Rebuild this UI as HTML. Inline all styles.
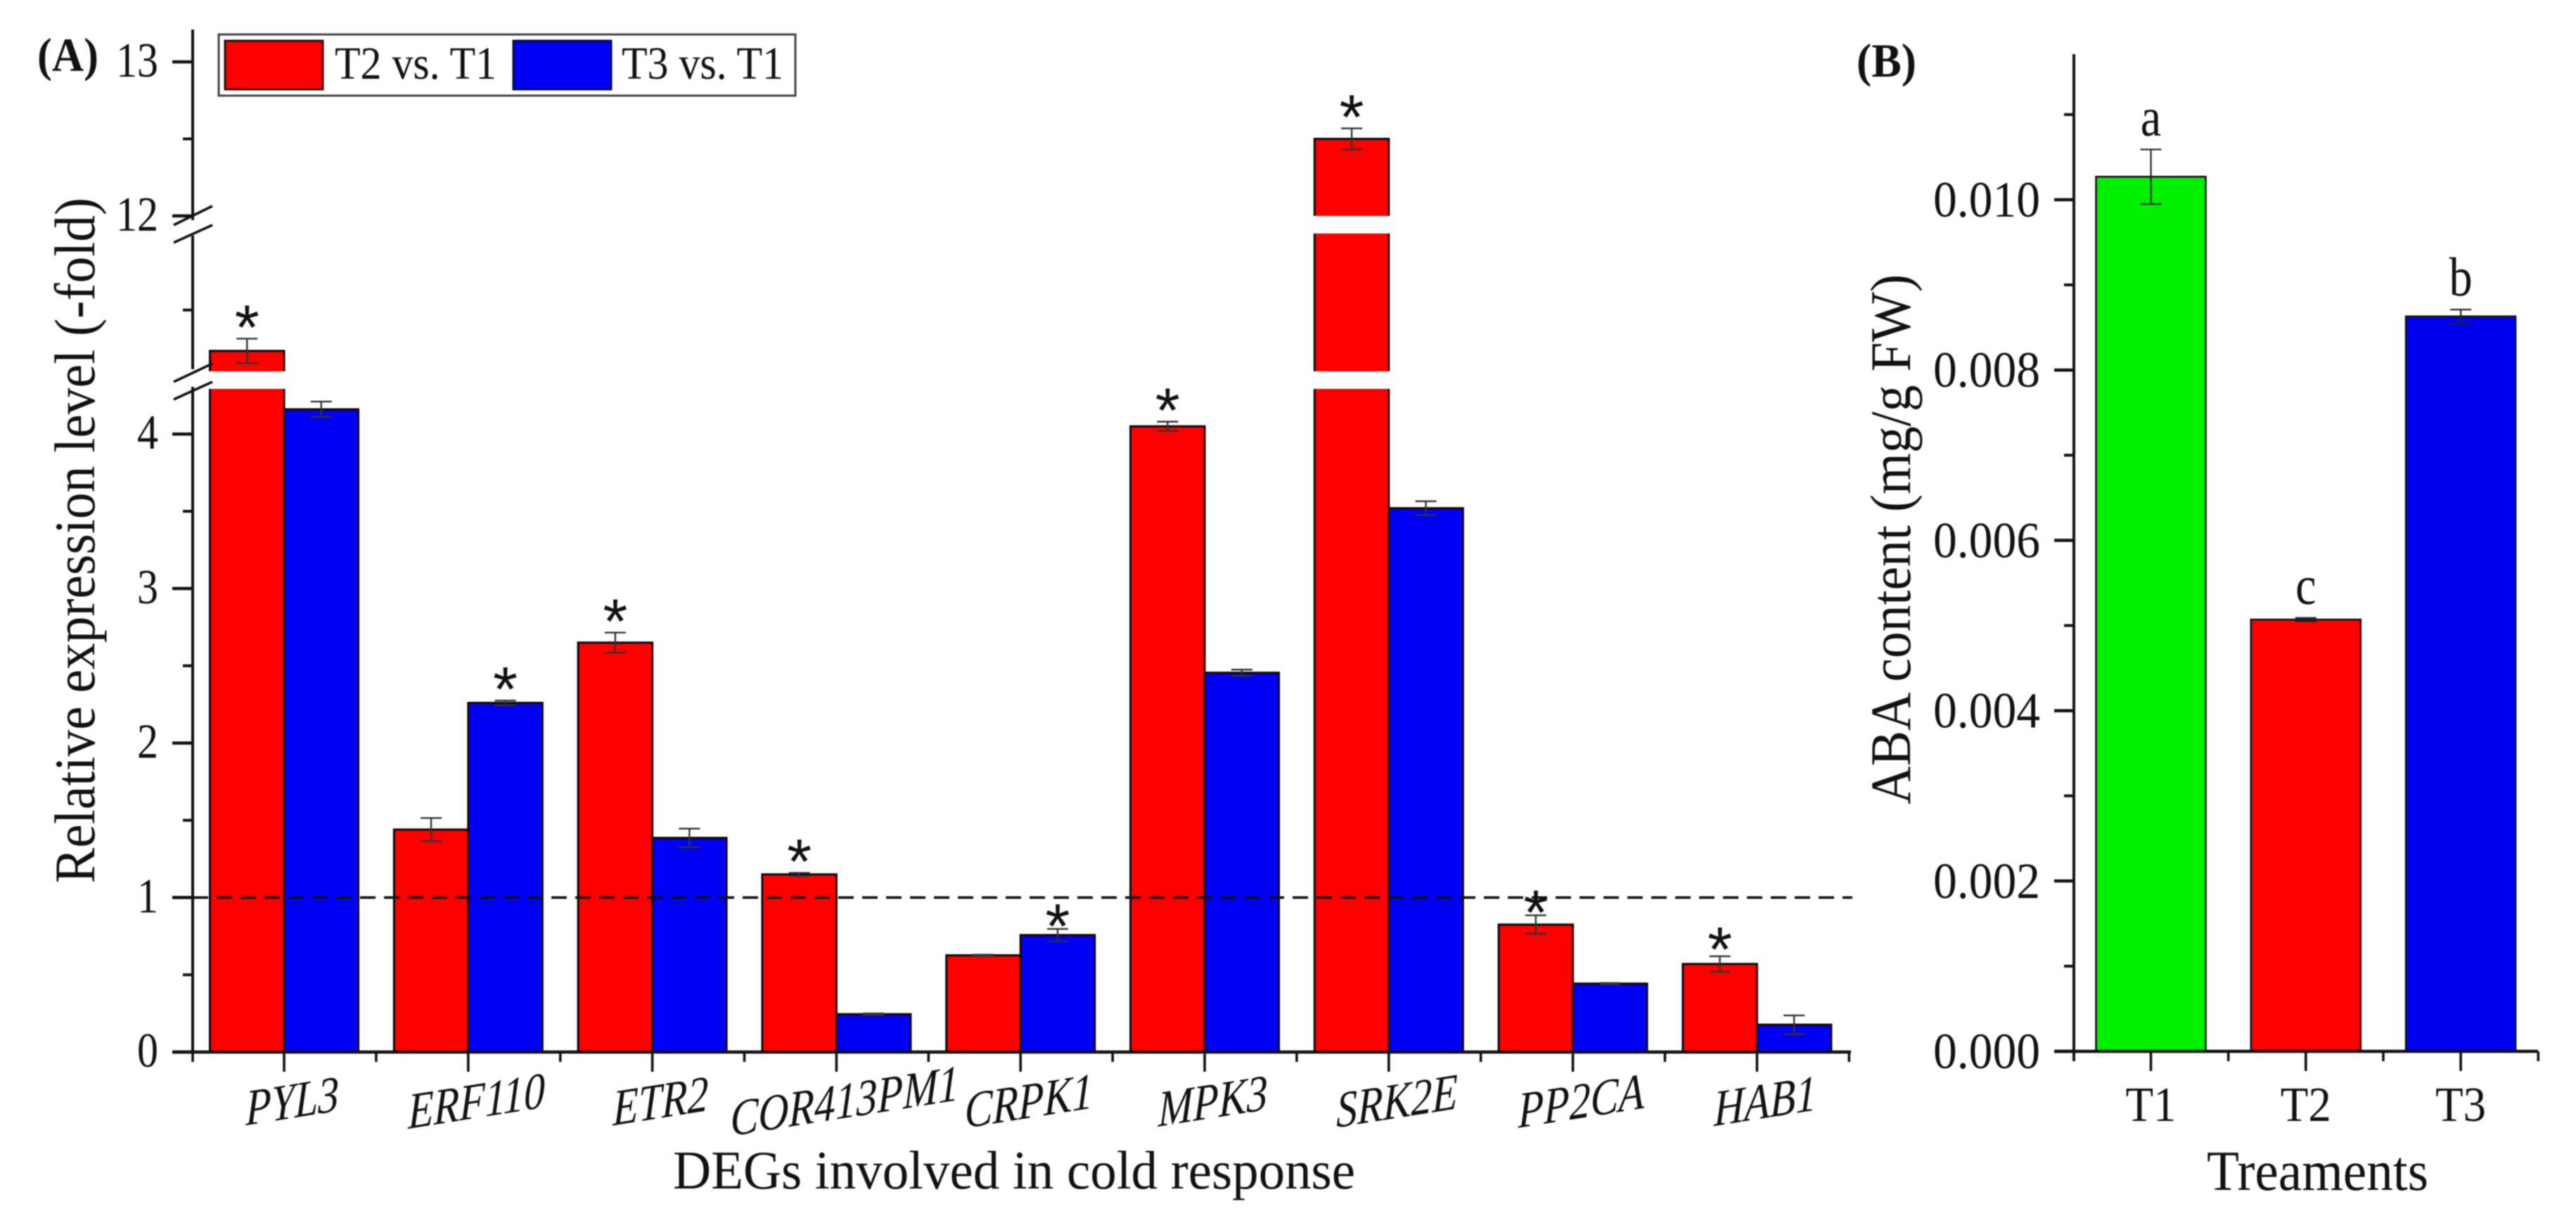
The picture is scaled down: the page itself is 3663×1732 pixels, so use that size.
<!DOCTYPE html>
<html lang="en">
<head>
<meta charset="utf-8">
<title>Relative expression of cold-response DEGs and ABA content</title>
<style>
html,body{margin:0;padding:0;background:#fff;width:3663px;height:1732px;overflow:hidden}
svg{display:block;filter:blur(0.7px)}
text{font-family:"Liberation Serif","Times New Roman",serif;fill:#111}
</style>
</head>
<body>
<svg id="figure" xmlns="http://www.w3.org/2000/svg" width="3663" height="1732" viewBox="0 0 3663 1732">
  <rect x="0" y="0" width="3663" height="1732" fill="#fff"/>

  <g id="panelA">
    <text x="53" y="101" font-size="68" font-weight="bold" textLength="87" lengthAdjust="spacingAndGlyphs">(A)</text>
    <text transform="translate(134,1256) rotate(-90)" font-size="82" textLength="975" lengthAdjust="spacingAndGlyphs">Relative expression level (-fold)</text>
    <text x="957" y="1690" font-size="77" textLength="970" lengthAdjust="spacingAndGlyphs">DEGs involved in cold response</text>
  </g>

  <g id="panelB">
    <text x="2640" y="109" font-size="68" font-weight="bold" textLength="85" lengthAdjust="spacingAndGlyphs">(B)</text>
    <text transform="translate(2716,1144) rotate(-90)" font-size="82" textLength="754" lengthAdjust="spacingAndGlyphs">ABA content (mg/g FW)</text>
    <text x="3138" y="1692" font-size="80" textLength="315" lengthAdjust="spacingAndGlyphs">Treaments</text>
  </g>
</svg>

<script>
// ---- Panel A data ----
const genes = ['PYL3', 'ERF110', 'ETR2', 'COR413PM1', 'CRPK1', 'MPK3', 'SRK2E', 'PP2CA', 'HAB1'];
const t2Values = [6.0, 1.44, 2.65, 1.15, 0.626, 4.05, 12.5, 0.825, 0.57];
const t2Errors = [0.6, 0.075, 0.065, 0.01, 0.004, 0.03, 0.068, 0.06, 0.05];
const t3Values = [4.16, 2.26, 1.386, 0.245, 0.757, 2.455, 3.52, 0.443, 0.177];
const t3Errors = [0.05, 0.015, 0.06, 0.005, 0.04, 0.02, 0.045, 0.004, 0.06];
const t2Stars = [1, 0, 1, 1, 0, 1, 1, 1, 1];
const t3Stars = [0, 1, 0, 0, 1, 0, 0, 0, 0];
const closeStarGenes = ['CRPK1', 'PP2CA'];
const yTicksA = [0, 1, 2, 3, 4, 12, 13];
const yMinorTicksA = [0.5, 1.5, 2.5, 3.5, 8, 12.5];
const referenceLevel = 1;

// ---- Panel B data ----
const treatments = ['T1', 'T2', 'T3'];
const abaValues = [0.01027, 0.00507, 0.00863];
const abaErrors = [0.00032, 0.00002, 0.00008];
const abaLetters = ['a', 'c', 'b'];
const abaColors = ['#00f000', '#fe0000', '#0000f0'];
const yTicksB = ['0.000', '0.002', '0.004', '0.006', '0.008', '0.010'];
const yMinorTicksB = [0.001, 0.003, 0.005, 0.007, 0.009, 0.011];

const NS = 'http://www.w3.org/2000/svg';
const svg = document.getElementById('figure');
const panelA = document.getElementById('panelA');
const panelB = document.getElementById('panelB');

function make(parent, tag, attrs) {
  const el = document.createElementNS(NS, tag);
  for (const k in attrs) el.setAttribute(k, attrs[k]);
  parent.appendChild(el);
  return el;
}

// ---- Panel A scales (broken axis) ----
const A_LOW_TOP = 4.29, A_MID_BOTTOM = 5, A_MID_TOP = 11.75, A_UP_BOTTOM = 12;
function yA(v) {
  if (v >= A_UP_BOTTOM) return 307 - 219 * (v - A_UP_BOTTOM);
  if (v >= A_MID_BOTTOM) return 528 - 29.04 * (v - A_MID_BOTTOM);
  if (v >= A_LOW_TOP) return 553 - (v - A_LOW_TOP) * (25 / (A_MID_BOTTOM - A_LOW_TOP));
  return 1496 - 219.7 * v;
}
function xA(i) { return 404 + 261.8 * i; }
const barWidthA = 105.5;
const gapsA = [[A_LOW_TOP, A_MID_BOTTOM], [A_MID_TOP, A_UP_BOTTOM]];

function drawBarA(i, side, value, err, color, series, star) {
  const gene = genes[i];
  const x = side < 0 ? xA(i) - barWidthA : xA(i);
  const top = yA(value);
  const bar = make(panelA, 'rect', { x: x, y: top, width: barWidthA, height: yA(0) - top, fill: color, stroke: '#160404', 'stroke-width': 3 });
  
  
  gapsA.forEach(function (g) {
    if (value > g[1]) {
      const gap = make(panelA, 'rect', { x: x - 3, y: yA(g[1]), width: barWidthA + 6, height: yA(g[0]) - yA(g[1]), fill: '#fff' });
      
      
    }
  });
  const cx = x + barWidthA / 2;
  const yHi = yA(value + err), yLo = yA(value - err);
  const eb = make(panelA, 'path', { d: 'M' + cx + ' ' + yHi + 'V' + yLo + 'M' + (cx - 15) + ' ' + yHi + 'H' + (cx + 15) + 'M' + (cx - 15) + ' ' + yLo + 'H' + (cx + 15), fill: 'none', stroke: '#333', 'stroke-width': 2.4 });
  
  
  if (star) {
    let lift = closeStarGenes.indexOf(gene) >= 0 ? 19 : 31;
    if (gene === 'HAB1') lift = 25;
    const s = make(panelA, 'text', { x: cx, y: yHi - lift + 46, 'text-anchor': 'middle', 'font-size': 90, style: 'font-family:"Liberation Sans",Arial,sans-serif' });
    s.textContent = '*';
    
    
  }
}

genes.forEach(function (g, i) {
  drawBarA(i, -1, t2Values[i], t2Errors[i], '#fe0000', 't2', t2Stars[i]);
  drawBarA(i, 1, t3Values[i], t3Errors[i], '#0000f4', 't3', t3Stars[i]);
});

// reference line
const refLine = make(panelA, 'line', { x1: 274, x2: 2634, y1: yA(referenceLevel), y2: yA(referenceLevel), stroke: '#111', 'stroke-width': 3.6, 'stroke-dasharray': '22 12' });



// y axis A with breaks
const axisPathA = make(panelA, 'path', { d: 'M274 42V313M274 335V525M274 550V1498', fill: 'none', stroke: '#111', 'stroke-width': 4 });


const breakMarks = make(panelA, 'path', { d: 'M247 320L302 293M247 345L302 320M247 543L302 517M247 568L302 543', fill: 'none', stroke: '#111', 'stroke-width': 3.6 });



yTicksA.forEach(function (t) {
  const y = yA(t);
  const tk = make(panelA, 'line', { x1: 245, x2: 274, y1: y, y2: y, stroke: '#111', 'stroke-width': 4.5 });
  
  
  const lb = make(panelA, 'text', { x: 225, y: y + 21, 'text-anchor': 'end', 'font-size': 70, textLength: 30 * String(t).length, lengthAdjust: 'spacingAndGlyphs' });
  lb.textContent = t;
  
  
});
yMinorTicksA.forEach(function (t) {
  const y = yA(t);
  const tk = make(panelA, 'line', { x1: 260, x2: 274, y1: y, y2: y, stroke: '#111', 'stroke-width': 4 });
  
  
});

// x axis A
const xAxisA = make(panelA, 'line', { x1: 245, x2: 2632, y1: yA(0), y2: yA(0), stroke: '#111', 'stroke-width': 4.5 });


genes.forEach(function (g, i) {
  const x = xA(i);
  const tk = make(panelA, 'line', { x1: x, x2: x, y1: 1496, y2: 1524, stroke: '#111', 'stroke-width': 3.6 });
  
  
  const cy = 1566, cx = x + 8;
  const lb = make(panelA, 'text', { x: 0, y: 0, 'text-anchor': 'middle', 'font-size': 72, style: 'font-style:italic', transform: 'rotate(-9 ' + cx + ' ' + cy + ') translate(' + cx + ' ' + (cy + 24) + ') skewX(-9) scale(0.84 1)' });
  lb.textContent = g;
  
  
});
for (let i = -1; i < genes.length; i++) {
  const x = i < 0 ? 274 : xA(i + 0.5);
  const tk = make(panelA, 'line', { x1: x, x2: x, y1: 1496, y2: 1510, stroke: '#111', 'stroke-width': 3.6 });
  
  
}

// legend
const legend = make(panelA, 'g', {});


const legendBox = make(legend, 'rect', { x: 311, y: 49, width: 820, height: 87, fill: '#fff', stroke: '#444', 'stroke-width': 3 });


const swatchT2 = make(legend, 'rect', { x: 320, y: 58, width: 139, height: 69, fill: '#fe0000', stroke: '#330808', 'stroke-width': 3 });


const labelT2 = make(legend, 'text', { x: 476, y: 112, 'font-size': 66, textLength: 230, lengthAdjust: 'spacingAndGlyphs' });
labelT2.textContent = 'T2 vs. T1';


const swatchT3 = make(legend, 'rect', { x: 730, y: 58, width: 139, height: 69, fill: '#0000f4', stroke: '#000850', 'stroke-width': 3 });


const labelT3 = make(legend, 'text', { x: 884, y: 112, 'font-size': 66, textLength: 230, lengthAdjust: 'spacingAndGlyphs' });
labelT3.textContent = 'T3 vs. T1';



// ---- Panel B ----
function yB(v) { return 1495 - 121100 * v; }
function xB(i) { return 3058.5 + 220.3 * i; }
const barWidthB = 156;

treatments.forEach(function (t, i) {
  const cx = xB(i), top = yB(abaValues[i]);
  const bar = make(panelB, 'rect', { x: cx - barWidthB / 2, y: top, width: barWidthB, height: yB(0) - top, fill: abaColors[i], stroke: '#121212', 'stroke-width': 2.6 });
  
  
  const yHi = yB(abaValues[i] + abaErrors[i]), yLo = yB(abaValues[i] - abaErrors[i]);
  const eb = make(panelB, 'path', { d: 'M' + cx + ' ' + yHi + 'V' + yLo + 'M' + (cx - 15) + ' ' + yHi + 'H' + (cx + 15) + 'M' + (cx - 15) + ' ' + yLo + 'H' + (cx + 15), fill: 'none', stroke: '#222', 'stroke-width': 2.2 });
  
  
  const lt = make(panelB, 'text', { x: 0, y: 0, 'text-anchor': 'middle', 'font-size': 78, transform: 'translate(' + cx + ' ' + (yHi - 20) + ') scale(0.85 1)' });
  lt.textContent = abaLetters[i];
  
  
  const tk = make(panelB, 'line', { x1: cx, x2: cx, y1: yB(0), y2: yB(0) + 28, stroke: '#111', 'stroke-width': 3.6 });
  
  
  const mx = xB(i + 0.5);
  const mtk = make(panelB, 'line', { x1: mx, x2: mx, y1: yB(0), y2: yB(0) + 14, stroke: '#111', 'stroke-width': 3.6 });
  
  
  const lb = make(panelB, 'text', { x: cx, y: 1594, 'text-anchor': 'middle', 'font-size': 70, textLength: 72, lengthAdjust: 'spacingAndGlyphs' });
  lb.textContent = t;
  
  
});

const yAxisB = make(panelB, 'line', { x1: 2949, x2: 2949, y1: 77, y2: yB(0) + 14, stroke: '#111', 'stroke-width': 4 });


const xAxisB = make(panelB, 'line', { x1: 2921, x2: 3609, y1: yB(0), y2: yB(0), stroke: '#111', 'stroke-width': 4.5 });



yTicksB.forEach(function (t) {
  const y = yB(parseFloat(t));
  const tk = make(panelB, 'line', { x1: 2921, x2: 2949, y1: y, y2: y, stroke: '#111', 'stroke-width': 4.5 });
  
  
  const lb = make(panelB, 'text', { x: 2901, y: y + 24, 'text-anchor': 'end', 'font-size': 72, textLength: 152, lengthAdjust: 'spacingAndGlyphs' });
  lb.textContent = t;
  
  
});
yMinorTicksB.forEach(function (t) {
  const y = yB(t);
  const tk = make(panelB, 'line', { x1: 2935, x2: 2949, y1: y, y2: y, stroke: '#111', 'stroke-width': 4 });
  
  
});
const startTickB = make(panelB, 'line', { x1: 2949, x2: 2949, y1: yB(0), y2: yB(0) + 14, stroke: '#111', 'stroke-width': 3.6 });


</script>
</body>
</html>
